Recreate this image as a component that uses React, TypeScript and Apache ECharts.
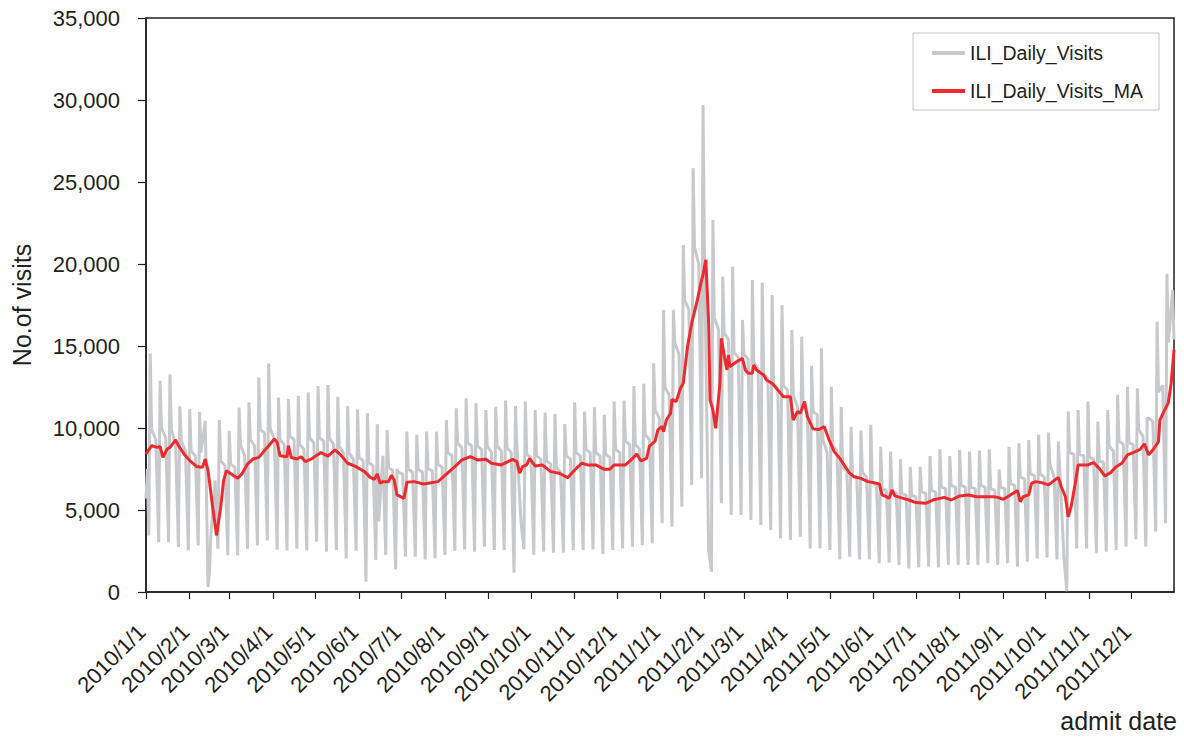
import React, { useEffect, useRef } from "react";
import * as echarts from "echarts";

// ---- Data ----
// Weekly structure of the daily visits, week k starts Monday 2010/1/4 + 7k
// Sunday troughs (day before each Monday)
const weekSundayLows = [
  3450, 3040, 3040, 2740, 2540, 2840, 300, 2640, 2230, 2230,
  2640, 2840, 3140, 2580, 2540, 2640, 2540, 3070, 2460, 2560,
  2050, 2520, 630, 1950, 2260, 1380, 2150, 2150, 1990, 2050,
  2260, 2520, 2600, 2460, 2760, 2560, 2560, 1180, 2600, 2260,
  2460, 2400, 2400, 2560, 2560, 2600, 2320, 2560, 2660, 2760,
  2870, 2970, 4190, 3980, 5200, 6530, 6930, 1240, 5410, 4700,
  4700, 4390, 4090, 3780, 3270, 3170, 3370, 2660, 2660, 2560,
  1990, 2150, 1990, 1990, 1750, 1790, 1650, 1440, 1500, 1540,
  1500, 1650, 1650, 1650, 1650, 1750, 1650, 1750, 1550, 1850,
  2050, 2110, 1990, 50, 2660, 2660, 2360, 2460, 2560, 2760,
  3210, 2760, 3680, 4190,
];
// Monday peaks
const weekMondayPeaks = [
  14540, 12880, 13280, 11320, 11150, 10990, 1200, 10480, 9830, 11250,
  11560, 13080, 13930, 11860, 11760, 11970, 12170, 12560, 12620, 11910,
  11340, 11140, 10900, 10230, 9880, 7500, 9780, 9580, 9780, 9780,
  10490, 11200, 11810, 11510, 11100, 11300, 11670, 11340, 11610, 11100,
  10940, 10860, 10250, 11550, 11000, 11260, 10800, 11610, 11670, 12560,
  12690, 13950, 17200, 17200, 21160, 25840, 29700, 22690, 19230, 19840,
  16590, 19030, 18870, 18110, 17500, 15980, 15570, 13800, 14860, 12520,
  11300, 10080, 9840, 10190, 8860, 8560, 8090, 7640, 7640, 8290,
  8700, 8290, 8660, 8560, 8620, 8700, 7480, 8860, 9070, 9270,
  9580, 9720, 9170, 11000, 11100, 11610, 10390, 11100, 12020, 12520,
  12420, 10590, 16490, 19400,
];
// Tuesday levels
const weekTuesdayLevels = [
  9900, 10000, 9900, 9200, 8600, 8500, 3500, 8000, 7800, 9000,
  9300, 9900, 10000, 9300, 9500, 9000, 9400, 9400, 9400, 8900,
  8500, 8200, 7900, 4300, 7600, 7300, 7500, 7500, 7500, 7800,
  8500, 9100, 9100, 8900, 8900, 8900, 8800, 9000, 8400, 8300,
  8000, 7600, 8300, 8500, 8700, 8500, 8400, 8700, 9200, 9000,
  9600, 11100, 12500, 15200, 17800, 21000, 21000, 16700, 15800, 14600,
  14500, 14000, 13300, 12700, 12600, 12000, 11300, 11000, 9300, 8900,
  7600, 7100, 7300, 6700, 6300, 6150, 6000, 5900, 6100, 6200,
  6400, 6500, 6500, 6400, 6500, 6300, 6400, 6600, 7000, 7200,
  7200, 7800, 7500, 8500, 8400, 8200, 8000, 8900, 9200, 9100,
  9900, 10600, 12200, 15200,
];
// Friday levels
const weekFridayLevels = [
  9300, 9400, 9000, 8600, 8300, 10440, 6800, 7700, 7600, 8300,
  8900, 9700, 9300, 9000, 9300, 8700, 9100, 9200, 9000, 8500,
  8100, 8000, 7700, 8300, 7400, 7200, 7300, 7300, 7400, 7600,
  8300, 8800, 8900, 8700, 8500, 8600, 8500, 4190, 8200, 8100,
  7800, 7300, 8100, 8300, 8500, 8300, 8200, 8500, 9000, 8700,
  9300, 10600, 12000, 14500, 17200, 20000, 2500, 16000, 15400, 14300,
  14200, 13600, 13000, 12400, 12300, 11300, 10900, 10800, 8500, 8600,
  7400, 7000, 7000, 6500, 6200, 6050, 5900, 5800, 6000, 6100,
  6300, 6400, 6400, 6300, 6400, 6200, 6300, 6500, 6900, 7100,
  7000, 7000, 2000, 8400, 8300, 8100, 7900, 8600, 9000, 9000,
  9500, 10400, 12600, 18400,
];
// Days outside the weekly blocks: [day offset from 2010/1/1, value]
const extraDailyPoints = [
  [0, 5700],
  [1, 7500],
  [729, 15400],
];

// Moving average: day offset from 2010/1/1 and value
const maDays = [
  0, 4, 8, 10, 12, 15, 17, 21, 23, 27, 31, 36, 40, 42, 44, 47, 50, 53, 55, 57,
  62, 65, 68, 72, 76, 80, 84, 87, 91, 93, 95, 100, 101, 103, 107, 110, 113, 117, 124, 129,
  134, 138, 143, 149, 155, 159, 162, 164, 166, 168, 172, 174, 176, 178, 183, 185, 190, 197, 207, 211,
  219, 224, 230, 235, 241, 245, 252, 260, 263, 265, 267, 270, 272, 276, 281, 287, 293, 299, 304, 309,
  313, 319, 325, 329, 332, 340, 344, 348, 351, 355, 357, 361, 363, 366, 367, 369, 372, 373, 376, 379,
  381, 384, 387, 391, 394, 395, 397, 399, 400, 402, 404, 407, 408, 411, 412, 413, 414, 419, 423, 425,
  427, 430, 431, 433, 438, 440, 444, 449, 452, 457, 459, 462, 464, 467, 469, 473, 477, 481, 484, 488,
  492, 495, 499, 502, 507, 512, 516, 520, 522, 525, 527, 529, 531, 537, 541, 546, 553, 558, 566, 571,
  577, 583, 589, 596, 601, 604, 608, 611, 615, 618, 620, 622, 626, 628, 631, 635, 640, 643, 647, 649,
  652, 654, 656, 659, 661, 668, 672, 676, 680, 684, 688, 692, 696, 700, 705, 708, 711, 714, 718, 719,
  723, 725, 727, 729,
];
const maValues = [
  8420, 8920, 8820, 8860, 8210, 8720, 8820, 9270, 8920, 8420, 8010, 7650, 7600, 8110, 7400, 5370, 3450, 5170, 6790, 7400,
  7100, 6940, 7200, 7810, 8110, 8210, 8620, 8920, 9330, 9130, 8310, 8250, 8920, 8200, 8110, 8250, 7950, 8100, 8500, 8290,
  8660, 8360, 7850, 7640, 7340, 6990, 6870, 7200, 6630, 6730, 6730, 7120, 6830, 5920, 5710, 6690, 6730, 6590, 6730, 7030,
  7640, 8050, 8250, 8050, 8090, 7850, 7750, 8090, 7950, 7240, 7640, 7750, 8150, 7680, 7750, 7340, 7240, 6970, 7440, 7850,
  7750, 7750, 7480, 7480, 7750, 7750, 8050, 8420, 7990, 8150, 8900, 9200, 9880, 10100, 9780, 10490, 10900, 11750, 11610, 12420,
  12730, 14960, 16390, 17810, 19030, 19330, 20250, 16390, 11710, 11100, 9980, 12730, 15470, 13950, 13540, 14450, 13740, 14050, 14250, 13540,
  13340, 13340, 13840, 13540, 13230, 12930, 12730, 12220, 11910, 11910, 10490, 11000, 10900, 11610, 10690, 9950, 9900, 10080, 9370, 8560,
  8150, 7750, 7240, 7030, 6930, 6730, 6670, 6590, 5920, 5810, 5710, 6220, 5860, 5710, 5610, 5450, 5410, 5610, 5770, 5610,
  5860, 5920, 5810, 5810, 5810, 5770, 5650, 5810, 6020, 6180, 5510, 5810, 5920, 6630, 6730, 6670, 6530, 6730, 6990, 6430,
  5810, 4590, 5200, 6630, 7750, 7750, 7890, 7540, 7070, 7280, 7640, 7850, 8360, 8500, 8700, 9030, 8360, 8660, 9170, 10490,
  11200, 11550, 12730, 14760,
];

const yTicks = [0, 5000, 10000, 15000, 20000, 25000, 30000, 35000];
const seriesNames = ["ILI_Daily_Visits", "ILI_Daily_Visits_MA"];

// Daily categories 2010/1/1 .. 2011/12/31
const categories: string[] = [];
for (let i = 0; i < 730; i++) {
  const d = new Date(Date.UTC(2010, 0, 1 + i));
  categories.push(`${d.getUTCFullYear()}/${d.getUTCMonth() + 1}/${d.getUTCDate()}`);
}

function buildDaily(): [number, number][] {
  const pts: [number, number][] = [];
  extraDailyPoints.forEach((p) => pts.push([p[0], p[1]]));
  for (let k = 0; k < weekMondayPeaks.length; k++) {
    const mon = 3 + 7 * k;
    pts.push([mon - 1, weekSundayLows[k]]);
    pts.push([mon, weekMondayPeaks[k]]);
    pts.push([mon + 1, weekTuesdayLevels[k]]);
    pts.push([mon + 4, weekFridayLevels[k]]);
  }
  pts.sort((a, b) => a[0] - b[0]);
  return pts;
}

const FONT = "'Liberation Sans', Arial, Helvetica, sans-serif";
const INK = "#231f20";

export default function App() {
  const ref = useRef<HTMLDivElement>(null);
  useEffect(() => {
    if (!ref.current) return;
    const chart = echarts.init(ref.current, undefined, { renderer: "svg" });
    const isMonthStart = (_i: number, v: string) => v.split("/")[2] === "1";
    chart.setOption({
      animation: false,
      backgroundColor: "#ffffff",
      textStyle: { fontFamily: FONT, color: INK },
      grid: {
        left: 146,
        right: 10,
        top: 18,
        bottom: 147,
        show: true,
        borderColor: INK,
        borderWidth: 1.5,
        backgroundColor: "transparent",
        containLabel: false,
        outerBoundsMode: "none",
      },
      legend: {
        data: seriesNames,
        orient: "vertical",
        left: 913,
        top: 33,
        icon: "rect",
        itemWidth: 33,
        itemHeight: 4,
        itemGap: 18,
        backgroundColor: "#ffffff",
        borderColor: "#c4c4c4",
        borderWidth: 1,
        padding: [10, 16, 9, 19],
        textStyle: { fontFamily: FONT, fontSize: 19.5, color: INK, lineHeight: 20 },
      },
      xAxis: {
        type: "category",
        data: categories,
        boundaryGap: false,
        name: "admit date",
        nameLocation: "end",
        nameGap: 3,
        nameTextStyle: {
          fontFamily: FONT,
          fontSize: 25,
          color: INK,
          align: "right",
          verticalAlign: "top",
          padding: [116, 0, 0, 0],
        },
        axisLine: { lineStyle: { color: INK, width: 1.5 } },
        axisTick: { show: true, interval: isMonthStart, length: 7, lineStyle: { color: INK, width: 1.2 } },
        axisLabel: {
          interval: isMonthStart,
          rotate: 45,
          margin: 32,
          padding: [0, 6, 0, 0],
          fontSize: 22,
          fontFamily: FONT,
          color: INK,
        },
        splitLine: { show: false },
      },
      yAxis: {
        type: "value",
        min: 0,
        max: 35000,
        interval: 5000,
        name: "No.of visits",
        nameLocation: "middle",
        nameGap: 112,
        nameTextStyle: { fontFamily: FONT, fontSize: 25, color: INK },
        axisLine: { show: true, lineStyle: { color: INK, width: 1.5 } },
        axisTick: { show: true, length: 8, lineStyle: { color: INK, width: 1.2 } },
        axisLabel: {
          margin: 26,
          fontSize: 22,
          fontFamily: FONT,
          color: INK,
          formatter: (v: number) => (yTicks.includes(v) ? v.toLocaleString("en-US") : ""),
        },
        splitLine: { show: false },
      },
      series: [
        {
          name: seriesNames[0],
          type: "line",
          data: buildDaily(),
          showSymbol: false,
          symbol: "none",
          color: "#c8c9cb",
          lineStyle: { color: "#c8c9cb", width: 3 },
          z: 2,
        },
        {
          name: seriesNames[1],
          type: "line",
          data: maDays.map((d, i) => [d, maValues[i]]),
          showSymbol: false,
          symbol: "none",
          color: "#ec2a30",
          lineStyle: { color: "#ec2a30", width: 3 },
          z: 3,
        },
      ],
    });
    return () => chart.dispose();
  }, []);
  return (
    <div
      ref={ref}
      style={{ position: "fixed", left: 0, top: 0, width: 1184, height: 739, background: "#fff" }}
    />
  );
}
